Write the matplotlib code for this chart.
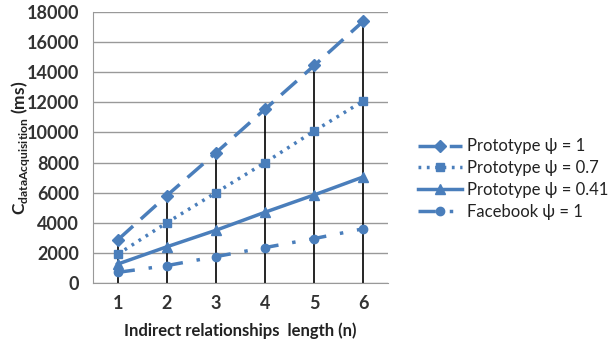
import matplotlib
matplotlib.use("Agg")
import matplotlib.pyplot as plt

plt.rcParams['font.family'] = ['Lato', 'DejaVu Sans']

n_values = [1, 2, 3, 4, 5, 6]
proto_1 = [2850, 5800, 8650, 11550, 14450, 17400]
proto_07 = [1900, 4000, 6000, 8000, 10100, 12100]
proto_041 = [1250, 2400, 3500, 4700, 5850, 7050]
facebook_1 = [700, 1150, 1750, 2350, 2950, 3600]
labels = ['Prototype ψ = 1', 'Prototype ψ = 0.7', 'Prototype ψ = 0.41', 'Facebook ψ = 1']
y_ticks = list(range(0, 18001, 2000))

blue = '#4a7ebb'

fig = plt.figure(figsize=(6.16, 3.48), dpi=100)
ax = fig.add_axes([0.151, 0.187, 0.479, 0.7785])

ax.vlines(n_values, 0, [max(a, b, c, d) for a, b, c, d in zip(proto_1, proto_07, proto_041, facebook_1)],
          colors='black', linewidth=1.2, zorder=2)

ax.plot(n_values, proto_1, color=blue, lw=2.5, dashes=(6, 3), marker='D', ms=6, label=labels[0], zorder=3)
ax.plot(n_values, proto_07, color=blue, lw=2.5, dashes=(0.8, 1.6), marker='s', ms=6, label=labels[1], zorder=3)
ax.plot(n_values, proto_041, color=blue, lw=2.5, linestyle='-', marker='^', ms=7, label=labels[2], zorder=3)
ax.plot(n_values, facebook_1, color=blue, lw=2.5, dashes=(5, 4, 1, 4), marker='o', ms=6, label=labels[3], zorder=3)

ax.set_xlim(0.5, 6.5)
ax.set_ylim(0, 18000)
ax.set_yticks(y_ticks)
ax.set_xticks(n_values)
ax.yaxis.grid(True, color='#999999', lw=1)
ax.set_axisbelow(True)
for s in ['top', 'right']:
    ax.spines[s].set_visible(False)
ax.spines['left'].set_color('#999999')
ax.spines['bottom'].set_color('#999999')
ax.tick_params(axis='y', length=0, labelsize=13, labelcolor='#333333', pad=10)
ax.tick_params(axis='x', length=0, labelsize=13, labelcolor='#333333', pad=9)
for lab in ax.get_xticklabels() + ax.get_yticklabels():
    lab.set_fontweight('bold')

ax.set_xlabel('Indirect relationships  length (n)', fontsize=12, fontweight='bold', labelpad=7, color='#222222')
ax.set_ylabel(r'C$_{\mathregular{dataAcquisition}}$ (ms)', fontsize=12.5, fontweight='bold', color='#222222')
ax.yaxis.set_label_coords(-0.208, 0.5)

fig.legend(loc='center left', bbox_to_anchor=(0.655, 0.485), frameon=False, fontsize=12,
           handlelength=2.6, labelspacing=0.35, handletextpad=0.3, labelcolor='#222222')

fig.savefig('out.png', dpi=100)
